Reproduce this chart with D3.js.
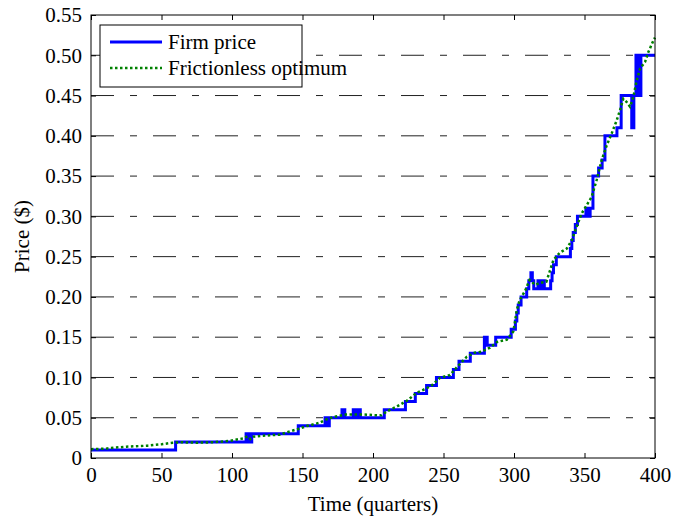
<!DOCTYPE html>
<html>
<head>
<meta charset="utf-8">
<script src="https://cdn.jsdelivr.net/npm/d3@7"></script>
<style>
  body { margin: 0; background: #fff; }
</style>
</head>
<body>
<div id="chart"></div>
<script>
// firm price: [quarter, price] at each change point (step function)
const firmPrice = [
  [0, 0.01], [60, 0.02], [110, 0.03], [112, 0.02], [114, 0.03], [147, 0.04],
  [166, 0.05], [167.5, 0.04], [169, 0.05], [178, 0.06], [180, 0.05], [186, 0.06],
  [188, 0.05], [189, 0.06], [191, 0.05], [208, 0.06], [223, 0.07], [230, 0.08],
  [238, 0.09], [245, 0.10], [257, 0.11], [261, 0.12], [269, 0.13], [279, 0.15],
  [281, 0.14], [287, 0.15], [298, 0.16], [301, 0.17], [302, 0.18], [303, 0.19],
  [305, 0.20], [309, 0.21], [310.5, 0.22], [312, 0.23], [313, 0.22], [314, 0.21],
  [317, 0.22], [318.5, 0.21], [320, 0.22], [321.5, 0.21], [326, 0.22], [327, 0.23],
  [328, 0.24], [330, 0.25], [340, 0.26], [341, 0.27], [342, 0.28], [343.5, 0.29],
  [345, 0.30], [351, 0.31], [353, 0.30], [354, 0.31], [356, 0.35], [360, 0.36],
  [362.5, 0.37], [364.5, 0.40], [373, 0.41], [376, 0.45], [383.5, 0.41], [385, 0.45],
  [386.5, 0.50], [388, 0.45], [390, 0.50], [400, 0.50]
];

// frictionless optimum
const optimum = [
  [0, 0.011], [10, 0.0115], [16, 0.0128], [25, 0.014], [40, 0.0153], [50, 0.017],
  [58, 0.019], [63, 0.0195], [75, 0.019], [87, 0.0195], [99, 0.0215], [108, 0.0244],
  [111, 0.027], [113, 0.0235], [115, 0.0265], [122, 0.0277], [134, 0.029], [141, 0.033],
  [147, 0.036], [153, 0.0397], [162, 0.0437], [167, 0.048], [172, 0.051], [181, 0.054],
  [193, 0.054], [203, 0.053], [206, 0.053], [210, 0.058], [217, 0.064], [224, 0.071],
  [231, 0.081], [238, 0.0865], [242, 0.0906], [247.5, 0.0996], [254.6, 0.103],
  [259.4, 0.1125], [266.5, 0.1257], [272, 0.1306], [277, 0.132], [283, 0.137],
  [288, 0.144], [295, 0.147], [299.5, 0.157], [300.5, 0.167], [302, 0.184], [304, 0.196],
  [308, 0.208], [311, 0.221], [315, 0.215], [318, 0.217], [323, 0.219], [328, 0.246],
  [332.6, 0.255], [337.4, 0.26], [341, 0.2705], [344.4, 0.287], [348, 0.3036],
  [351.6, 0.314], [355, 0.324], [358.6, 0.345], [362.2, 0.37], [365.7, 0.388],
  [369.3, 0.403], [372.8, 0.419], [375.2, 0.432], [377.5, 0.446], [379.9, 0.442],
  [382.3, 0.436], [384.6, 0.448], [387, 0.4685], [389.4, 0.4835], [393, 0.492],
  [395.3, 0.504], [398.8, 0.518], [400, 0.522]
];

const xTicks = [0, 50, 100, 150, 200, 250, 300, 350, 400];
const yTicks = [0, 0.05, 0.10, 0.15, 0.20, 0.25, 0.30, 0.35, 0.40, 0.45, 0.50, 0.55];
const legendLabels = ["Firm price", "Frictionless optimum"];

const W = 679, H = 520;
const margin = {top: 15, right: 24, bottom: 62, left: 91};
const width = W - margin.left - margin.right;
const height = H - margin.top - margin.bottom;
const serif = "Liberation Serif";

const svg = d3.select("#chart").append("svg")
    .attr("width", W)
    .attr("height", H);

const g = svg.append("g")
    .attr("transform", "translate(" + margin.left + "," + margin.top + ")");

const x = d3.scaleLinear().domain([0, 400]).range([0, width]);
const y = d3.scaleLinear().domain([0, 0.55]).range([height, 0]);

// dashed horizontal grid
g.append("g")
  .selectAll("line")
  .data(yTicks.filter(d => d > 0 && d < 0.55))
  .enter()
  .append("line")
    .attr("x1", 0)
    .attr("x2", width)
    .attr("y1", d => y(d))
    .attr("y2", d => y(d))
    .attr("stroke", "#222")
    .attr("stroke-width", 1)
    .attr("stroke-dasharray", "23,16,7,16");

const yFmt = d => d === 0 ? "0" : d3.format(".2f")(d);

// axes, ticks pointing inward
const axBottom = g.append("g")
    .attr("transform", "translate(0," + height + ")")
    .call(d3.axisBottom(x).tickValues(xTicks).tickSizeInner(-5).tickSizeOuter(0).tickPadding(9));
const axLeft = g.append("g")
    .call(d3.axisLeft(y).tickValues(yTicks).tickFormat(yFmt).tickSizeInner(-5).tickSizeOuter(0).tickPadding(9));
const axTop = g.append("g")
    .call(d3.axisTop(x).tickValues(xTicks).tickSizeInner(-5).tickSizeOuter(0).tickFormat(""));
const axRight = g.append("g")
    .attr("transform", "translate(" + width + ",0)")
    .call(d3.axisRight(y).tickValues(yTicks).tickSizeInner(-5).tickSizeOuter(0).tickFormat(""));

[axBottom, axLeft, axTop, axRight].forEach(a => {
    a.attr("font-family", serif).attr("font-size", 21);
    a.select(".domain").remove();
    a.selectAll("line").attr("stroke", "#000");
    a.selectAll("text").attr("fill", "#000");
});

// lines
const firmLine = d3.line()
    .x(d => x(d[0]))
    .y(d => y(d[1]))
    .curve(d3.curveStepAfter);
const optLine = d3.line()
    .x(d => x(d[0]))
    .y(d => y(d[1]));

const plot = g.append("g");
plot.append("path")
    .datum(firmPrice)
    .attr("fill", "none")
    .attr("stroke", "#0000ff")
    .attr("stroke-width", 3)
    .attr("d", firmLine);
plot.append("path")
    .datum(optimum)
    .attr("fill", "none")
    .attr("stroke", "#008000")
    .attr("stroke-width", 2.5)
    .attr("stroke-dasharray", "2.5,2.5")
    .attr("d", optLine);

// box
g.append("rect")
    .attr("width", width)
    .attr("height", height)
    .attr("fill", "none")
    .attr("stroke", "#000")
    .attr("stroke-width", 1);

// axis titles
svg.append("text")
    .attr("x", margin.left + width / 2)
    .attr("y", 511)
    .attr("text-anchor", "middle")
    .attr("font-family", serif)
    .attr("font-size", 21)
    .text("Time (quarters)");
svg.append("text")
    .attr("transform", "translate(29," + (margin.top + height / 2) + ") rotate(-90)")
    .attr("text-anchor", "middle")
    .attr("font-family", serif)
    .attr("font-size", 21)
    .text("Price ($)");

// legend
const leg = svg.append("g").attr("transform", "translate(100,25)");
leg.append("rect")
    .attr("width", 202)
    .attr("height", 62)
    .attr("fill", "#fff")
    .attr("stroke", "#000")
    .attr("stroke-width", 1);
const styles = [
    {color: "#0000ff", w: 3, dash: null},
    {color: "#008000", w: 2.5, dash: "2.5,2.5"}
];
legendLabels.forEach((lab, i) => {
    const ly = 17 + i * 26;
    leg.append("line")
        .attr("x1", 10).attr("x2", 62)
        .attr("y1", ly).attr("y2", ly)
        .attr("stroke", styles[i].color)
        .attr("stroke-width", styles[i].w)
        .attr("stroke-dasharray", styles[i].dash);
    leg.append("text")
        .attr("x", 68)
        .attr("y", ly + 7)
        .attr("font-family", serif)
        .attr("font-size", 21)
        .text(lab);
});
</script>
</body>
</html>
